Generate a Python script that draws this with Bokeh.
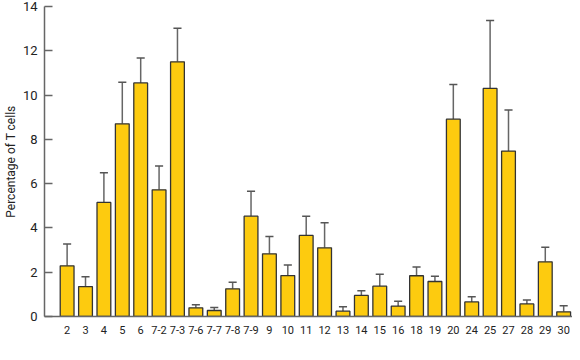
from bokeh.plotting import figure
from bokeh.models import ColumnDataSource, Range1d, FixedTicker
from bokeh.embed import file_html
from bokeh.resources import INLINE

categories = ["2", "3", "4", "5", "6", "7-2", "7-3", "7-6", "7-7", "7-8", "7-9",
              "9", "10", "11", "12", "13", "14", "15", "16", "18", "19", "20",
              "24", "25", "27", "28", "29", "30"]
values = [2.29, 1.35, 5.15, 8.70, 10.55, 5.72, 11.50, 0.39, 0.27, 1.25, 4.53,
          2.83, 1.85, 3.66, 3.10, 0.24, 0.95, 1.37, 0.47, 1.84, 1.58, 8.91,
          0.66, 10.30, 7.47, 0.57, 2.47, 0.21]
errors = [0.98, 0.44, 1.34, 1.88, 1.12, 1.08, 1.52, 0.14, 0.14, 0.30, 1.13,
          0.78, 0.48, 0.87, 1.13, 0.20, 0.21, 0.54, 0.22, 0.39, 0.24, 1.57,
          0.23, 3.07, 1.86, 0.18, 0.66, 0.27]
y_ticks = [0, 2, 4, 6, 8, 10, 12, 14]

FONT = "Roboto"
idx = list(range(len(categories)))
tops = [v + e for v, e in zip(values, errors)]
cap_half = 0.22
src = ColumnDataSource(dict(
    x=idx, top=values, etop=tops,
    cx0=[i - cap_half for i in idx], cx1=[i + cap_half for i in idx],
))

p = figure(width=572, height=344, output_backend="svg", toolbar_location=None,
           x_range=Range1d(-1.23, 27.48), y_range=Range1d(0, 14),
           min_border_left=34, min_border_right=0, min_border_top=6, min_border_bottom=28)
p.outline_line_color = None
p.xgrid.visible = False
p.ygrid.visible = False
p.background_fill_color = "white"

p.segment(x0="x", y0="top", x1="x", y1="etop", source=src, line_color="#666666", line_width=1.5)
p.segment(x0="cx0", y0="etop", x1="cx1", y1="etop", source=src, line_color="#555555", line_width=1.5)
p.vbar(x="x", top="top", bottom=0, width=0.75, source=src,
       fill_color="#FDCB0F", line_color="#333333", line_width=1.3)

p.yaxis.ticker = FixedTicker(ticks=y_ticks)
p.yaxis.axis_label = "Percentage of T cells"
p.yaxis.axis_label_text_font = FONT
p.yaxis.axis_label_text_font_style = "normal"
p.yaxis.axis_label_text_font_size = "12px"
p.yaxis.axis_label_text_color = "#222222"
p.yaxis.axis_label_standoff = 2
p.yaxis.major_label_text_font = FONT
p.yaxis.major_label_text_font_size = "13px"
p.yaxis.major_label_text_color = "#222222"
p.yaxis.major_label_standoff = 7
p.yaxis.major_tick_in = 8
p.yaxis.major_tick_out = 0
p.yaxis.minor_tick_in = 0
p.yaxis.minor_tick_out = 0
p.yaxis.axis_line_color = "#666666"
p.yaxis.axis_line_width = 1.5
p.yaxis.major_tick_line_color = "#666666"
p.yaxis.major_tick_line_width = 1.5

p.xaxis.ticker = FixedTicker(ticks=idx)
p.xaxis.major_label_overrides = {i: c for i, c in zip(idx, categories)}
p.xaxis.major_label_text_font = FONT
p.xaxis.major_label_text_font_size = "11px"
p.xaxis.major_label_text_color = "#222222"
p.xaxis.major_label_standoff = 9
p.xaxis.major_tick_in = 0
p.xaxis.major_tick_out = 0
p.xaxis.minor_tick_in = 0
p.xaxis.minor_tick_out = 0
p.xaxis.axis_line_color = "#666666"
p.xaxis.axis_line_width = 1.5

open("out.html", "w").write(file_html(p, INLINE))
